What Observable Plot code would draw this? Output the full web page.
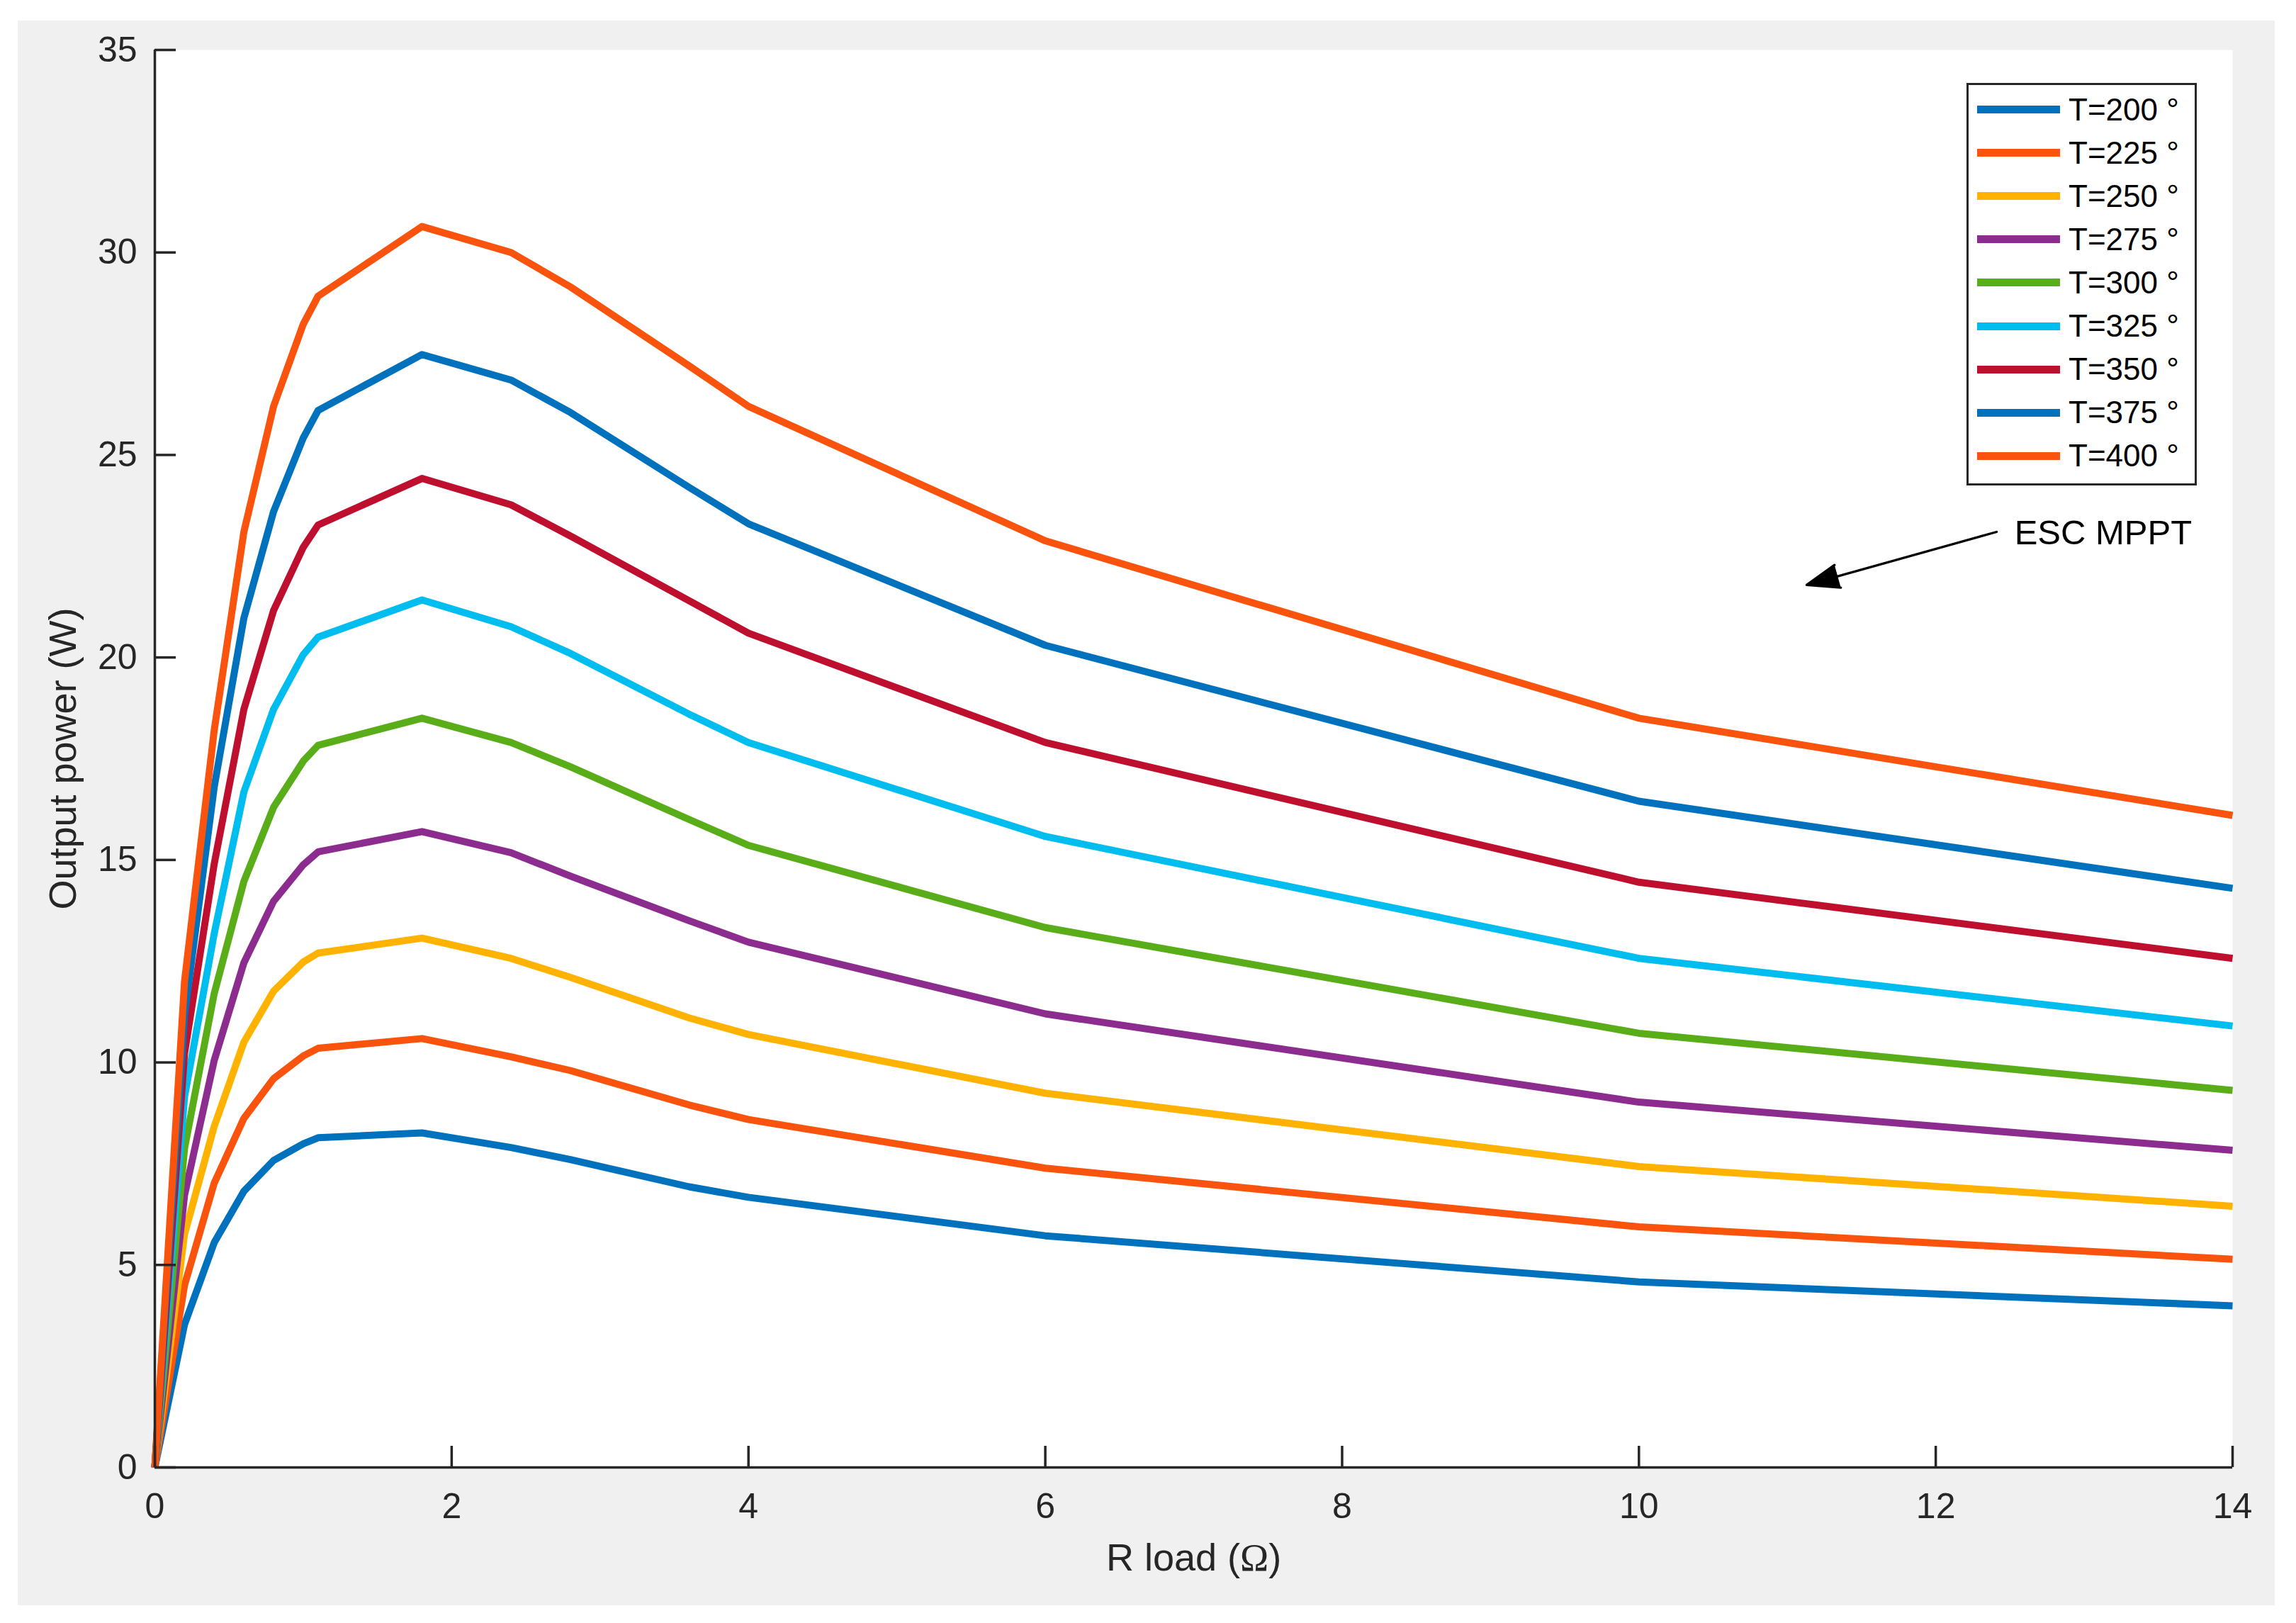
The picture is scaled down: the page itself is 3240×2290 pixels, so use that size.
<!DOCTYPE html>
<html>
<head>
<meta charset="utf-8">
<script src="https://cdn.jsdelivr.net/npm/d3@7"></script>
<script src="https://cdn.jsdelivr.net/npm/@observablehq/plot@0.6"></script>
<style>
  html, body { margin: 0; padding: 0; background: #ffffff; }
  #fig { position: relative; width: 3240px; height: 2290px; font-family: "Liberation Sans", Arial, Helvetica, sans-serif; }
  #bg { position: absolute; left: 25px; top: 29px; width: 3185px; height: 2236px; background: #f0f0f0; }
  #chart { position: absolute; left: 0; top: 0; }
  #legend { position: absolute; left: 2775px; top: 117px; width: 319px; height: 558px; border: 3px solid #262626; background: #ffffff; padding-top: 4px; box-sizing: content-box; }
  .row { height: 61.1px; display: flex; align-items: center; }
  .swatch { margin-left: 12px; width: 117px; height: 11px; }
  .lab { margin-left: 12px; font-size: 44px; color: #000; white-space: pre; }
  g[aria-label="x-axis label"] text, g[aria-label="y-axis label"] text { font-size: 54px; }
</style>
</head>
<body>
<div id="fig">
  <div id="bg"></div>
  <div id="chart"></div>
  <div id="legend"></div>
</div>
<script>
// ---- data ----
const rLoad = [0, 0.2, 0.4, 0.6, 0.8, 1.0, 1.1, 1.8, 2.4, 2.8, 3.6, 4, 6, 10, 14];
const temps = ["T=200 °", "T=225 °", "T=250 °", "T=275 °", "T=300 °", "T=325 °", "T=350 °", "T=375 °", "T=400 °"];
const p200 = [0, 3.53, 5.55, 6.82, 7.58, 7.99, 8.14, 8.26, 7.90, 7.60, 6.93, 6.67, 5.72, 4.58, 3.99];
const p225 = [0, 4.50, 7.02, 8.62, 9.60, 10.16, 10.35, 10.59, 10.14, 9.80, 8.95, 8.59, 7.39, 5.94, 5.14];
const p250 = [0, 5.76, 8.42, 10.50, 11.76, 12.48, 12.70, 13.07, 12.57, 12.10, 11.10, 10.69, 9.24, 7.43, 6.45];
const p275 = [0, 6.72, 10.05, 12.46, 13.98, 14.88, 15.20, 15.70, 15.18, 14.60, 13.50, 12.97, 11.20, 9.02, 7.83];
const p300 = [0, 7.88, 11.70, 14.47, 16.30, 17.44, 17.83, 18.50, 17.90, 17.30, 16.00, 15.36, 13.33, 10.72, 9.31];
const p325 = [0, 9.15, 13.18, 16.68, 18.72, 20.07, 20.50, 21.42, 20.76, 20.10, 18.60, 17.90, 15.58, 12.57, 10.90];
const p350 = [0, 10.22, 14.90, 18.72, 21.16, 22.72, 23.27, 24.42, 23.77, 23.00, 21.40, 20.60, 17.90, 14.45, 12.57];
const p375 = [0, 11.17, 16.80, 20.97, 23.60, 25.42, 26.10, 27.48, 26.85, 26.05, 24.20, 23.30, 20.30, 16.45, 14.30];
const p400 = [0, 12.00, 18.20, 23.10, 26.20, 28.23, 28.92, 30.64, 30.00, 29.15, 27.20, 26.20, 22.88, 18.50, 16.10];
const seriesValues = [p200, p225, p250, p275, p300, p325, p350, p375, p400];
const colors = ["#0072BD", "#F9530D", "#FFB300", "#8D2C8F", "#58AD18", "#00BDF0", "#BF0F2F", "#0072BD", "#F9530D"];
const xTicks = [0, 2, 4, 6, 8, 10, 12, 14];
const yTicks = [0, 5, 10, 15, 20, 25, 30, 35];
const annotationText = ["ESC MPPT"];
const annotationPos = [{x: 12.53, y: 23.07}];
const arrowFrom = [{x: 12.41, y: 23.10}];
const arrowTo = [{x: 11.13, y: 21.79}];

// ---- build table ----
const rows = [];
seriesValues.forEach((vals, s) => vals.forEach((v, i) => rows.push({R: rLoad[i], P: v, T: temps[s]})));
const arrows = arrowFrom.map((a, i) => ({x1: a.x, y1: a.y, x2: arrowTo[i].x, y2: arrowTo[i].y}));
const labels = annotationText.map((t, i) => ({text: t, ...annotationPos[i]}));

const axisColor = "#262626";
const plot = Plot.plot({
  width: 3240,
  height: 2290,
  marginLeft: 218,
  marginRight: 90,
  marginTop: 70,
  marginBottom: 220,
  style: {background: "transparent", fontFamily: "'Liberation Sans', Arial, Helvetica, sans-serif", fontSize: "50px", color: axisColor},
  x: {domain: [0, 14]},
  y: {domain: [0, 35]},
  color: {domain: temps, range: colors},
  marks: [
    Plot.frame({fill: "white", stroke: null}),
    Plot.line(rows, {x: "R", y: "P", z: "T", stroke: "T", strokeWidth: 10, strokeLinejoin: "round", strokeLinecap: "butt"}),
    Plot.ruleY([0], {stroke: axisColor, strokeWidth: 3.5}),
    Plot.ruleX([0], {stroke: axisColor, strokeWidth: 3.5}),
    Plot.axisX({ticks: xTicks, tickSize: -30, tickPadding: 66, strokeWidth: 3.5, stroke: axisColor, fill: axisColor, fontSize: 50,
      label: "R load (Ω)", labelAnchor: "center", labelOffset: 145, labelArrow: "none"}),
    Plot.axisY({ticks: yTicks, tickSize: -30, tickPadding: 55, strokeWidth: 3.5, stroke: axisColor, fill: axisColor, fontSize: 50,
      label: "Output power (W)", labelAnchor: "center", labelOffset: 150, labelArrow: "none"}),
    Plot.arrow(arrows, {x1: "x1", y1: "y1", x2: "x2", y2: "y2", stroke: "black", fill: "black", strokeWidth: 3.3, headLength: 22, headAngle: 40}),
    Plot.text(labels, {x: "x", y: "y", text: "text", textAnchor: "start", fontSize: 49, fill: "black"})
  ]
});
document.getElementById("chart").appendChild(plot);

// Omega in serif like the reference
const xl = plot.querySelector('g[aria-label="x-axis label"] text');
if (xl && xl.textContent.includes("Ω")) {
  const parts = xl.textContent.split("Ω");
  xl.textContent = "";
  const ns = "http://www.w3.org/2000/svg";
  const t1 = document.createElementNS(ns, "tspan"); t1.textContent = parts[0];
  const t2 = document.createElementNS(ns, "tspan"); t2.textContent = "Ω"; t2.setAttribute("font-family", "'Liberation Serif', 'DejaVu Serif', serif");
  const t3 = document.createElementNS(ns, "tspan"); t3.textContent = parts[1];
  xl.append(t1, t2, t3);
}

// legend
const legend = document.getElementById("legend");
temps.forEach((t, i) => {
  const row = document.createElement("div"); row.className = "row";
  const sw = document.createElement("div"); sw.className = "swatch"; sw.style.background = colors[i];
  const lb = document.createElement("div"); lb.className = "lab"; lb.textContent = t;
  row.append(sw, lb); legend.appendChild(row);
});
</script>
</body>
</html>
